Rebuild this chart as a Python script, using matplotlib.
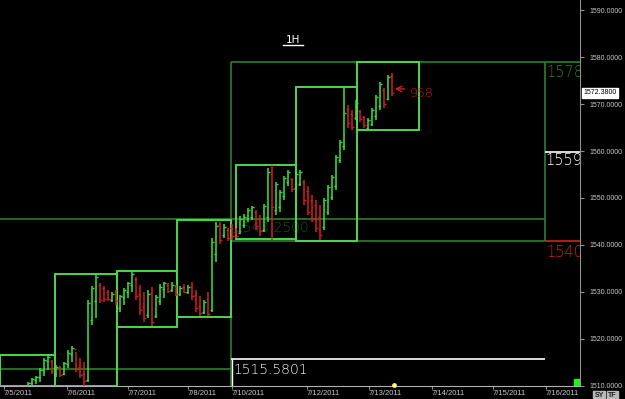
import matplotlib.pyplot as plt
from matplotlib.patches import Rectangle
import matplotlib.transforms as mtransforms

# hourly bars (slot index on the chart) : high, low, open, close
bar_idx = list(range(7, 99))
highs = [1510.7, 1511.6, 1512.0, 1513.7, 1515.8, 1516.5, 1515.4, 1514.4, 1514.2, 1515.0,
         1517.5, 1518.4, 1517.1, 1515.9, 1515.0, 1528.2, 1531.2, 1533.6, 1531.8, 1531.2,
         1530.4, 1529.9, 1530.4, 1529.3, 1530.8, 1532.1, 1534.2, 1533.1, 1531.4, 1530.0,
         1530.4, 1531.0, 1529.3, 1531.6, 1532.1, 1531.8, 1532.1, 1531.4, 1531.2, 1531.6,
         1531.4, 1532.1, 1530.4, 1529.1, 1528.2, 1529.9, 1541.4, 1544.8, 1544.8, 1544.4,
         1543.6, 1544.4, 1543.6, 1546.1, 1546.6, 1547.8, 1548.3, 1547.4, 1546.3, 1548.7,
         1556.4, 1557.0, 1553.4, 1551.7, 1554.7, 1556.0, 1554.3, 1555.5, 1556.0, 1553.8,
         1552.6, 1550.6, 1549.6, 1548.5, 1550.0, 1552.8, 1554.9, 1559.2, 1562.3, 1573.4,
         1569.8, 1568.7, 1570.8, 1568.7, 1567.5, 1567.0, 1569.2, 1572.0, 1574.7, 1573.4,
         1576.2, 1576.6]
lows = [1510.0, 1510.0, 1510.3, 1510.7, 1512.0, 1513.3, 1512.5, 1511.8, 1511.8, 1512.2,
        1513.7, 1515.0, 1512.9, 1511.6, 1510.0, 1510.7, 1522.9, 1524.4, 1527.6, 1527.8,
        1528.0, 1527.8, 1527.2, 1525.6, 1527.2, 1528.7, 1530.0, 1528.2, 1525.0, 1523.5,
        1524.4, 1522.6, 1524.4, 1527.2, 1528.7, 1529.8, 1530.0, 1529.0, 1529.1, 1529.7,
        1529.5, 1528.2, 1525.6, 1524.8, 1525.2, 1524.8, 1525.6, 1536.3, 1540.1, 1541.4,
        1540.8, 1541.0, 1541.4, 1542.3, 1543.6, 1544.8, 1545.3, 1543.2, 1541.9, 1542.7,
        1544.8, 1541.0, 1546.3, 1547.0, 1549.6, 1552.6, 1551.3, 1551.7, 1552.6, 1548.5,
        1546.3, 1544.8, 1542.7, 1541.0, 1543.2, 1546.3, 1549.6, 1551.7, 1557.4, 1560.2,
        1564.9, 1564.5, 1566.6, 1566.2, 1564.9, 1564.5, 1565.3, 1566.6, 1568.7, 1569.2,
        1570.8, 1571.7]
opens = [1510.2, 1510.6, 1511.2, 1511.8, 1513.4, 1515.2, 1515.2, 1512.5, 1514.0, 1512.4,
         1514.6, 1516.8, 1517.8, 1514.0, 1512.5, 1511.2, 1524.0, 1528.0, 1531.5, 1530.8,
         1530.0, 1528.2, 1530.0, 1526.5, 1528.8, 1530.0, 1531.5, 1532.8, 1529.5, 1527.0,
         1525.0, 1529.8, 1524.8, 1528.0, 1530.5, 1531.5, 1530.4, 1531.2, 1529.5, 1531.0,
         1530.0, 1531.0, 1529.2, 1527.0, 1525.6, 1528.5, 1526.0, 1538.0, 1544.2, 1542.0,
         1543.2, 1543.5, 1542.8, 1542.5, 1544.2, 1545.5, 1546.0, 1547.0, 1545.5, 1543.2,
         1546.0, 1555.0, 1547.5, 1548.0, 1550.5, 1553.5, 1554.0, 1552.2, 1553.0, 1553.5,
         1551.5, 1549.5, 1548.5, 1546.0, 1543.8, 1547.0, 1550.2, 1552.5, 1558.0, 1561.0,
         1569.0, 1567.8, 1567.0, 1568.5, 1567.2, 1565.0, 1565.8, 1567.5, 1569.5, 1573.0,
         1571.0, 1576.0]
closes = [1510.6, 1511.4, 1511.8, 1513.4, 1515.4, 1516.0, 1513.0, 1514.0, 1512.2, 1514.8,
          1517.0, 1518.0, 1513.5, 1512.2, 1511.0, 1527.5, 1530.8, 1533.2, 1528.2, 1528.5,
          1528.4, 1529.6, 1528.0, 1529.0, 1530.4, 1531.8, 1533.8, 1529.0, 1526.0, 1524.5,
          1529.5, 1523.5, 1528.8, 1531.0, 1531.8, 1530.2, 1531.5, 1529.6, 1530.8, 1530.0,
          1531.0, 1529.0, 1526.5, 1525.5, 1527.8, 1525.2, 1540.5, 1544.0, 1541.0, 1543.8,
          1541.5, 1541.8, 1541.8, 1545.6, 1546.0, 1547.4, 1548.0, 1544.0, 1543.0, 1548.2,
          1555.5, 1548.0, 1553.0, 1551.2, 1554.2, 1555.6, 1552.0, 1555.0, 1555.5, 1549.5,
          1547.0, 1545.5, 1543.5, 1542.0, 1549.5, 1552.4, 1554.5, 1558.8, 1562.0, 1568.0,
          1566.0, 1565.2, 1570.2, 1566.8, 1565.5, 1566.6, 1568.8, 1571.5, 1574.2, 1570.0,
          1575.8, 1572.4]

date_pos = [1, 16.75, 32, 47, 58, 76.75, 92.25, 108, 123.25, 136.5]
date_labels = ['7/5/2011', '7/6/2011', '7/7/2011', '7/8/2011', '7/10/2011',
               '7/12/2011', '7/13/2011', '7/14/2011', '7/15/2011', '7/16/2011']
price_ticks = [1510, 1520, 1530, 1540, 1550, 1560, 1570, 1580, 1590]

# range boxes
box_x0 = [0, 13.75, 29.25, 44.25, 59, 74, 89.25]
box_x1 = [13.75, 29.25, 44.25, 57.75, 74, 89.25, 104.75]
box_lo = [1510.0, 1510.0, 1522.5, 1524.6, 1541.2, 1540.8, 1564.4]
box_hi = [1516.5, 1533.8, 1534.4, 1545.3, 1557.0, 1573.6, 1578.9]

# big projection box and levels
big_x0, big_x1 = 57.75, 136.25
big_lo, big_hi = 1540.8, 1579.0
mid_level = 1559.7
day_level = 1515.5801
level_a = 1545.5
level_b = 1513.5
last_price = 1572.38

GREEN = '#3ee23e'
RED = '#d42020'
BOX = '#4ad84a'
DARK = '#2e7d2e'
GRAY = '#c8c8c8'

fig = plt.figure(figsize=(6.25, 3.99), dpi=100, facecolor='black')
ax = fig.add_axes([0, 0.0338, 0.928, 0.9662], facecolor='black')
ax.set_xlim(0, 145)
ax.set_ylim(1510, 1592.2)

# levels
ax.hlines(level_a, 0, big_x1, color=DARK, lw=1.2)
ax.hlines(level_b, 0, big_x0, color=DARK, lw=1.2)
ax.vlines(big_x0, 1510, big_hi, color=DARK, lw=1.2)
ax.hlines(big_hi, big_x0, 145, color=DARK, lw=1.2)
ax.hlines(big_lo, big_x0, big_x1, color=DARK, lw=1.2)
ax.vlines(big_x1, big_lo, big_hi, color=DARK, lw=1.2)
ax.hlines(big_lo, big_x1, 145, color=RED, lw=1.2)
ax.hlines(mid_level, big_x1, 145, color='white', lw=1.2)
ax.hlines(day_level, big_x0, big_x1, color='white', lw=1.2)
ax.vlines(big_x0 + 0.2, 1510, day_level, color='white', lw=1.0)

for x0, x1, lo, hi in zip(box_x0, box_x1, box_lo, box_hi):
    ax.add_patch(Rectangle((x0, lo), x1 - x0, hi - lo, fill=False,
                           edgecolor=BOX, lw=1.4, zorder=3))

# OHLC bars
for i, h, l, o, c in zip(bar_idx, highs, lows, opens, closes):
    col = GREEN if c >= o else RED
    ax.vlines(i, l, h, color=col, lw=1.1, zorder=4)
    ax.hlines(o, i - 0.45, i, color=col, lw=1.0, zorder=4)
    ax.hlines(c, i, i + 0.45, color=col, lw=1.0, zorder=4)

# texts
light = dict(family='DejaVu Sans', fontweight='light')
ax.text(58.6, 1543.6, '1543.2500', color='#245224', fontsize=10, va='center', zorder=2, **light)
ax.text(58.4, 1513.3, '1515.5801', color='white', fontsize=10, va='center', **light)
ax.text(136.7, 1576.8, '1578.', color=DARK, fontsize=10.5, va='center', clip_on=True, **light)
ax.text(136.3, 1558.0, '1559.', color='white', fontsize=10.5, va='center', clip_on=True, **light)
ax.text(136.7, 1538.4, '1540.', color=RED, fontsize=10.5, va='center', clip_on=True, **light)
ax.text(73.2, 1583.6, '1H', color='white', fontsize=7.5, ha='center', va='center')
ax.plot([0.488, 0.522], [0.882, 0.882], transform=ax.transAxes, color='white', lw=1.0)

ax.annotate('', xy=(98.0, 1573.3), xytext=(101.8, 1573.2),
            arrowprops=dict(arrowstyle='->', color=RED, lw=1.0))
ax.text(102.4, 1572.3, '958', color=RED, fontsize=9, va='center', **light)

ax.scatter([98.5], [1510.1], s=6, color='#ffff66', zorder=6, clip_on=False)
ax.add_patch(Rectangle((0.9895, 0), 0.0105, 0.018, transform=ax.transAxes,
                       color='#22ee22', zorder=6))

# axes styling
for s in ['left', 'top']:
    ax.spines[s].set_visible(False)
ax.spines['right'].set_color('#909090')
ax.spines['bottom'].set_color('#b0b0b0')
ax.yaxis.tick_right()
ax.set_yticks(price_ticks)
ax.set_yticklabels([f'{v:.4f}' for v in price_ticks], family='Liberation Sans')
ax.tick_params(axis='y', colors='#909090', labelcolor=GRAY, labelsize=5, length=3, pad=4)
ax.set_xticks(date_pos)
ax.set_xticklabels(date_labels, ha='left', family='Liberation Sans')
ax.tick_params(axis='x', colors='#909090', labelcolor=GRAY, labelsize=5.5, length=2, pad=1)

trans = mtransforms.blended_transform_factory(ax.transAxes, ax.transData)
ax.text(1.006, last_price, '1572.3800', transform=trans, color='black', fontsize=5,
        va='center', ha='left', family='Liberation Sans',
        bbox=dict(boxstyle='square,pad=0.25', fc='white', ec='white'))

fig.text(0.951, 0.006, 'SY', color='#202020', fontsize=5, fontweight='bold',
         family='Liberation Sans',
         bbox=dict(boxstyle='square,pad=0.15', fc='#b8b8b8', ec='#b8b8b8'))
fig.text(0.973, 0.006, 'TF', color='#202020', fontsize=5, fontweight='bold',
         family='Liberation Sans',
         bbox=dict(boxstyle='square,pad=0.15', fc='#b8b8b8', ec='#b8b8b8'))

fig.savefig('out.png', dpi=100, facecolor='black')
